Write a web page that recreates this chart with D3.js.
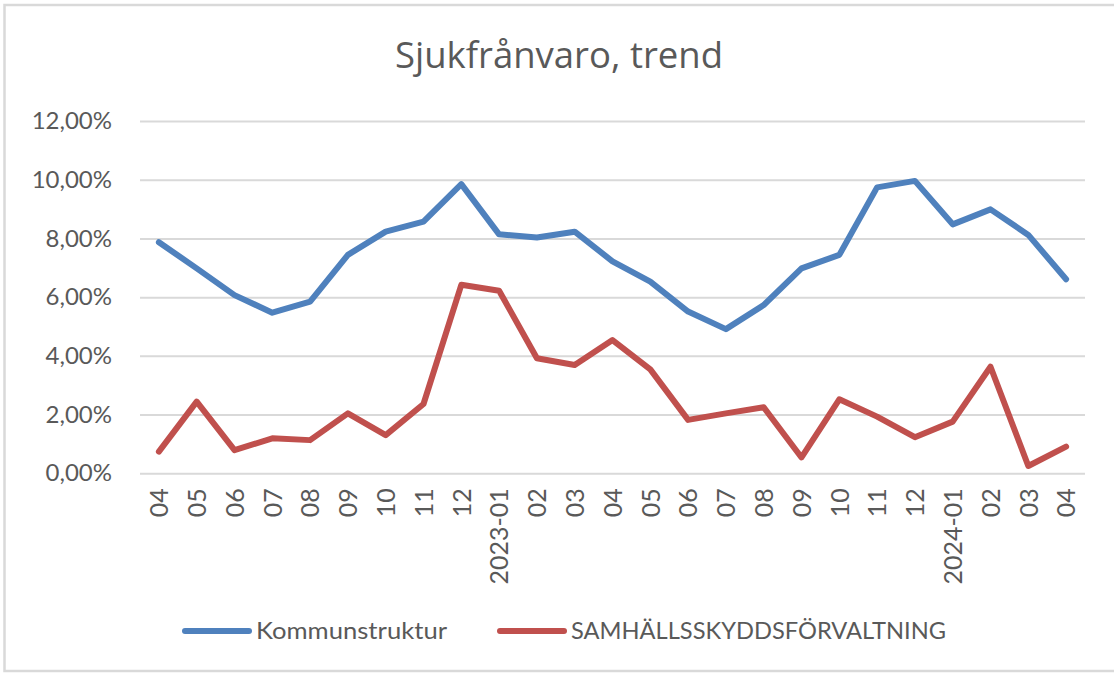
<!DOCTYPE html>
<html>
<head>
<meta charset="utf-8">
<script src="https://cdn.jsdelivr.net/npm/d3@7"></script>
<style>
    body { margin: 0; background: #fff; }
    svg text { font-family: Lato, "Open Sans", sans-serif; fill: #595959; }
</style>
</head>
<body>
<div id="chart"></div>
<script>
// categories (month labels)
var months = ["04", "05", "06", "07", "08", "09", "10", "11", "12", "2023-01", "02", "03",
    "04", "05", "06", "07", "08", "09", "10", "11", "12", "2024-01", "02", "03", "04"];

// series values (share)
var kommunstruktur = [0.0787, 0.0698, 0.0607, 0.0547, 0.0585, 0.0744, 0.0823, 0.0857, 0.0985,
    0.0814, 0.0803, 0.0823, 0.0722, 0.0653, 0.0551, 0.0491, 0.0573, 0.0698, 0.0744, 0.0974,
    0.0996, 0.0848, 0.0899, 0.0812, 0.0661];
var samhallsskydd = [0.0074, 0.0244, 0.0079, 0.0119, 0.0113, 0.0204, 0.0130, 0.0236, 0.0642,
    0.0622, 0.0392, 0.0369, 0.0454, 0.0354, 0.0182, 0.0204, 0.0225, 0.0054, 0.0252, 0.0193,
    0.0123, 0.0176, 0.0363, 0.0025, 0.0091];

var seriesNames = ["Kommunstruktur", "SAMHÄLLSSKYDDSFÖRVALTNING"];
var seriesColors = ["#4f81bd", "#c0504d"];

// y tick values
var yTicks = [0, 0.02, 0.04, 0.06, 0.08, 0.10, 0.12];

var width = 1114, height = 673;
var plot = {left: 140, right: 1085, top: 121, bottom: 473.3};

var svg = d3.select("#chart").append("svg")
    .attr("width", width).attr("height", height);

// chart frame
svg.append("rect")
    .attr("x", 4.5).attr("y", 5)
    .attr("width", 1130).attr("height", 666)
    .attr("fill", "none")
    .attr("stroke", "#d9d9d9")
    .attr("stroke-width", 2.5);

// scales
var x = d3.scalePoint()
    .domain(d3.range(months.length))
    .range([plot.left, plot.right])
    .padding(0.5);

var y = d3.scaleLinear()
    .domain([0, 0.12])
    .range([plot.bottom, plot.top]);

var fmt = function(d) { return d3.format(".2%")(d).replace(".", ","); };

// gridlines + y labels
var yaxis = d3.axisLeft(y)
    .tickValues(yTicks)
    .tickSize(-(plot.right - plot.left))
    .tickPadding(28)
    .tickFormat(fmt);

var gy = svg.append("g")
    .attr("transform", "translate(" + plot.left + ",0)")
    .call(yaxis);
gy.select(".domain").remove();
gy.selectAll(".tick line").attr("stroke", "#d9d9d9").attr("stroke-width", 2);
gy.selectAll(".tick text")
    .style("font-size", "24px")
    .attr("fill", "#595959");

// x labels
var xaxis = d3.axisBottom(x)
    .tickSize(0)
    .tickFormat(function(i) { return months[i]; });

var gx = svg.append("g")
    .attr("transform", "translate(0," + plot.bottom + ")")
    .call(xaxis);
gx.select(".domain").remove();
gx.selectAll(".tick text")
    .style("font-size", "25px")
    .attr("fill", "#595959")
    .attr("text-anchor", "end")
    .attr("transform", "rotate(-90)")
    .attr("x", -15)
    .attr("y", 0)
    .attr("dy", "0.35em");

// lines
var line = d3.line()
    .x(function(d, i) { return x(i); })
    .y(function(d) { return y(d); });

[kommunstruktur, samhallsskydd].forEach(function(s, k) {
    svg.append("path")
        .datum(s)
        .attr("d", line)
        .attr("fill", "none")
        .attr("stroke", seriesColors[k])
        .attr("stroke-width", 6)
        .attr("stroke-linejoin", "round")
        .attr("stroke-linecap", "round");
});

// title
svg.append("text")
    .text("Sjukfrånvaro, trend")
    .attr("x", 559).attr("y", 68)
    .attr("text-anchor", "middle")
    .style("font-family", "'Open Sans', sans-serif")
    .style("font-size", "36.5px");

// legend
var legendX = [185, 500];
var legendTextLen = [191, 375];
seriesNames.forEach(function(name, k) {
    svg.append("line")
        .attr("x1", legendX[k]).attr("x2", legendX[k] + 64)
        .attr("y1", 631).attr("y2", 631)
        .attr("stroke", seriesColors[k])
        .attr("stroke-width", 6)
        .attr("stroke-linecap", "round");
    svg.append("text")
        .text(name)
        .attr("x", legendX[k] + 71).attr("y", 631)
        .attr("dy", "0.35em")
        .attr("textLength", legendTextLen[k])
        .attr("lengthAdjust", "spacingAndGlyphs")
        .style("font-size", "24px");
});
</script>
</body>
</html>
